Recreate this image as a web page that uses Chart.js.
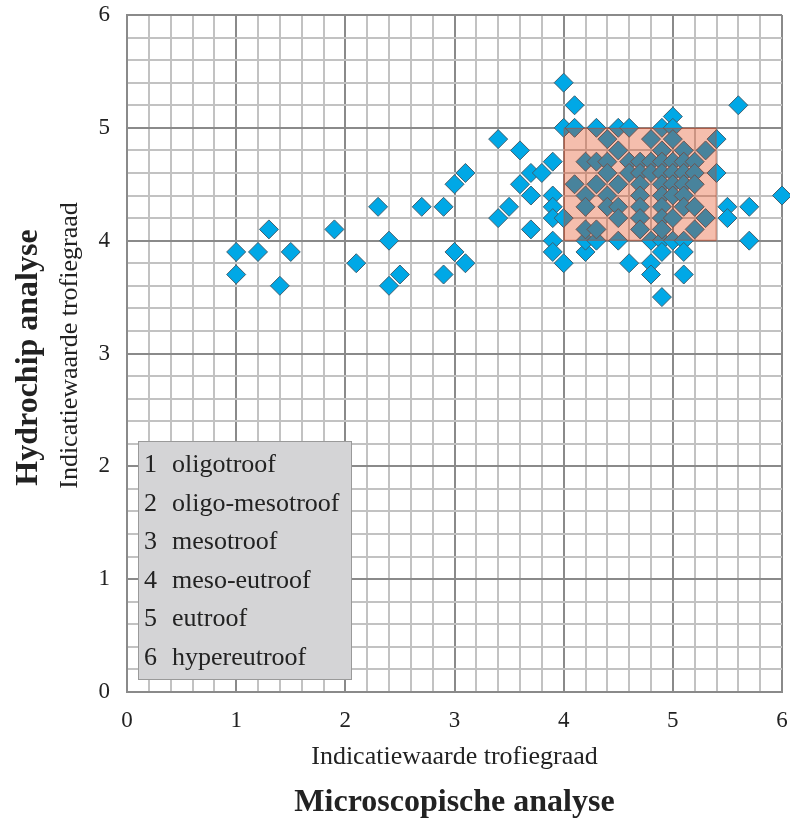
<!DOCTYPE html>
<html>
<head>
<meta charset="utf-8">
<script src="https://cdn.jsdelivr.net/npm/chart.js@4.4.1/dist/chart.umd.min.js"></script>
<style>
  html, body { margin: 0; padding: 0; background: #ffffff; }
  #wrap { width: 790px; height: 826px; position: relative; }
</style>
</head>
<body>
<div id="wrap"><canvas id="trofieChart"></canvas></div>
<script>
// indicatiewaarde trofiegraad per monster: microscopisch (x) tegen hydrochip (y)
const microValues = [
  1.0, 1.0, 1.2, 1.3, 1.4, 1.5,
  1.9, 2.1, 2.3, 2.4, 2.4, 2.5,
  2.7, 2.9, 2.9, 3.0, 3.1, 3.0, 3.1,
  3.4, 3.6, 3.6, 3.5, 3.4,
  3.7, 3.8, 3.9, 3.7, 3.7,
  3.9, 3.9, 3.9, 3.9, 3.9, 4.0, 4.0,
  4.0, 4.1, 4.0, 4.1, 4.3, 4.5, 4.6, 4.9, 5.0, 5.0, 5.6,
  5.4, 5.4, 5.5, 5.5, 5.7, 5.7, 6.0,
  4.2, 4.2, 4.3, 4.5, 4.6, 4.8, 4.8, 4.8, 4.9, 4.9, 5.0, 5.1, 5.1, 5.1, 4.9,
  4.4, 4.8, 5.0,
  4.5, 4.9, 5.1, 5.3,
  4.2, 4.3, 4.4, 4.6, 4.7, 4.8, 4.9, 5.0, 5.1, 5.2,
  4.4, 4.6, 4.7, 4.8, 4.9, 5.0, 5.1, 5.2,
  4.1, 4.3, 4.5, 4.7, 4.9, 5.0, 5.1, 5.2,
  4.2, 4.4, 4.7, 4.9, 5.0, 5.1,
  4.2, 4.4, 4.5, 4.7, 4.9, 5.1, 5.2,
  4.5, 4.7, 4.9, 5.0, 5.3,
  4.2, 4.3, 4.7, 4.9, 5.2
];
const hydroValues = [
  3.9, 3.7, 3.9, 4.1, 3.6, 3.9,
  4.1, 3.8, 4.3, 4.0, 3.6, 3.7,
  4.3, 4.3, 3.7, 3.9, 3.8, 4.5, 4.6,
  4.9, 4.8, 4.5, 4.3, 4.2,
  4.6, 4.6, 4.7, 4.4, 4.1,
  4.4, 4.3, 4.2, 4.0, 3.9, 3.8, 4.2,
  5.4, 5.2, 5.0, 5.0, 5.0, 5.0, 5.0, 5.0, 5.1, 5.0, 5.2,
  4.9, 4.6, 4.3, 4.2, 4.3, 4.0, 4.4,
  3.9, 4.0, 4.0, 4.0, 3.8, 3.8, 3.7, 4.0, 4.0, 3.9, 4.0, 4.0, 3.9, 3.7, 3.5,
  4.9, 4.9, 4.9,
  4.8, 4.8, 4.8, 4.8,
  4.7, 4.7, 4.7, 4.7, 4.7, 4.7, 4.7, 4.7, 4.7, 4.7,
  4.6, 4.6, 4.6, 4.6, 4.6, 4.6, 4.6, 4.6,
  4.5, 4.5, 4.5, 4.5, 4.5, 4.5, 4.5, 4.5,
  4.4, 4.4, 4.4, 4.4, 4.4, 4.4,
  4.3, 4.3, 4.3, 4.3, 4.3, 4.3, 4.3,
  4.2, 4.2, 4.2, 4.2, 4.2,
  4.1, 4.1, 4.1, 4.1, 4.1
];

const axisTicks = [0, 1, 2, 3, 4, 5, 6];
const trofieKlassen = ['oligotroof', 'oligo-mesotroof', 'mesotroof', 'meso-eutroof', 'eutroof', 'hypereutroof'];

// gebied waar beide methoden overeenkomen
const overlapX = [4, 5.4];
const overlapY = [4, 5];

const FONT = '"Liberation Serif", "Times New Roman", serif';

function isMajor(v) {
  return Math.abs(v - Math.round(v)) < 1e-6;
}

function tickLabel(value) {
  const hit = axisTicks.find(t => Math.abs(t - value) < 1e-6);
  return hit === undefined ? '' : String(hit);
}

function buildPoints() {
  return microValues.map((x, i) => ({ x: x, y: hydroValues[i] }));
}

// oranje vlak over de punten en het grijze klassenkader
const overlayPlugin = {
  id: 'overlay',
  afterDatasetsDraw(chart) {
    const ctx = chart.ctx;
    const xs = chart.scales.x, ys = chart.scales.y;
    const left = xs.getPixelForValue(overlapX[0]);
    const right = xs.getPixelForValue(overlapX[1]);
    const top = ys.getPixelForValue(overlapY[1]);
    const bottom = ys.getPixelForValue(overlapY[0]);
    ctx.save();
    ctx.fillStyle = 'rgba(225, 52, 0, 0.32)';
    ctx.fillRect(left, top, right - left, bottom - top);
    ctx.strokeStyle = 'rgba(190, 70, 40, 0.45)';
    ctx.lineWidth = 1;
    ctx.strokeRect(left + 0.5, top + 0.5, right - left - 1, bottom - top - 1);

    // klassenkader linksonder
    const area = chart.chartArea;
    const bx = area.left + 11, by = area.bottom - 251, bw = 214, bh = 239;
    ctx.fillStyle = '#d4d4d6';
    ctx.fillRect(bx, by, bw, bh);
    ctx.strokeStyle = '#9a9a9a';
    ctx.strokeRect(bx + 0.5, by + 0.5, bw - 1, bh - 1);
    ctx.fillStyle = '#222222';
    ctx.font = '26px ' + FONT;
    ctx.textBaseline = 'alphabetic';
    ctx.textAlign = 'left';
    trofieKlassen.forEach((name, i) => {
      const yy = by + 31 + i * 38.6;
      ctx.fillText(String(i + 1), bx + 6, yy);
      ctx.fillText(name, bx + 34, yy);
    });
    ctx.restore();
  },
  afterDraw(chart) {
    const ctx = chart.ctx;
    const area = chart.chartArea;
    const cx = (area.left + area.right) / 2;
    const cy = (area.top + area.bottom) / 2;
    ctx.save();
    ctx.fillStyle = '#222222';
    ctx.textAlign = 'center';
    ctx.textBaseline = 'middle';

    ctx.font = '26px ' + FONT;
    ctx.fillText('Indicatiewaarde trofiegraad', cx, 757);
    ctx.font = 'bold 32px ' + FONT;
    ctx.fillText('Microscopische analyse', cx, 803);

    ctx.translate(70, cy - 8);
    ctx.rotate(-Math.PI / 2);
    ctx.font = '26px ' + FONT;
    ctx.fillText('Indicatiewaarde trofiegraad', 0, 0);
    ctx.restore();

    ctx.save();
    ctx.fillStyle = '#222222';
    ctx.textAlign = 'center';
    ctx.textBaseline = 'middle';
    ctx.translate(29, cy + 4);
    ctx.rotate(-Math.PI / 2);
    ctx.font = 'bold 32px ' + FONT;
    ctx.fillText('Hydrochip analyse', 0, 0);
    ctx.restore();
  }
};

function gridColor(c) {
  return isMajor(c.tick.value) ? '#8a8a8a' : '#c2c2c2';
}

function initChart() {
  const ctx = document.getElementById('trofieChart').getContext('2d');
  return new Chart(ctx, {
    type: 'scatter',
    data: {
      datasets: [{
        label: 'monsters',
        data: buildPoints(),
        pointStyle: 'rectRot',
        pointRadius: 9.5,
        pointHoverRadius: 9.5,
        backgroundColor: '#00a8e6',
        borderColor: '#3e5f70',
        borderWidth: 1,
        clip: false
      }]
    },
    options: {
      responsive: true,
      maintainAspectRatio: false,
      animation: false,
      events: [],
      layout: { autoPadding: false, padding: { top: 15, right: 8, left: 0, bottom: 0 } },
      plugins: {
        legend: { display: false },
        tooltip: { enabled: false }
      },
      scales: {
        x: {
          type: 'linear',
          min: 0,
          max: 6,
          afterFit: s => {
            s.height = 134;
            s.paddingLeft = 0;
            s.paddingRight = 0;
          },
          ticks: {
            stepSize: 0.2,
            autoSkip: false,
            maxRotation: 0,
            padding: 15,
            color: '#222222',
            font: { family: FONT, size: 23 },
            callback: tickLabel
          },
          grid: { color: gridColor, lineWidth: 2, drawTicks: false },
          border: { display: true, color: '#8a8a8a', width: 2 }
        },
        y: {
          type: 'linear',
          min: 0,
          max: 6,
          afterFit: s => {
            s.width = 127;
            s.paddingTop = 0;
            s.paddingBottom = 0;
          },
          ticks: {
            stepSize: 0.2,
            autoSkip: false,
            padding: 17,
            color: '#222222',
            font: { family: FONT, size: 23 },
            callback: tickLabel
          },
          grid: { color: gridColor, lineWidth: 2, drawTicks: false },
          border: { display: true, color: '#8a8a8a', width: 2 }
        }
      }
    },
    plugins: [overlayPlugin]
  });
}

document.addEventListener('DOMContentLoaded', () => {
  initChart();
});
</script>
</body>
</html>
